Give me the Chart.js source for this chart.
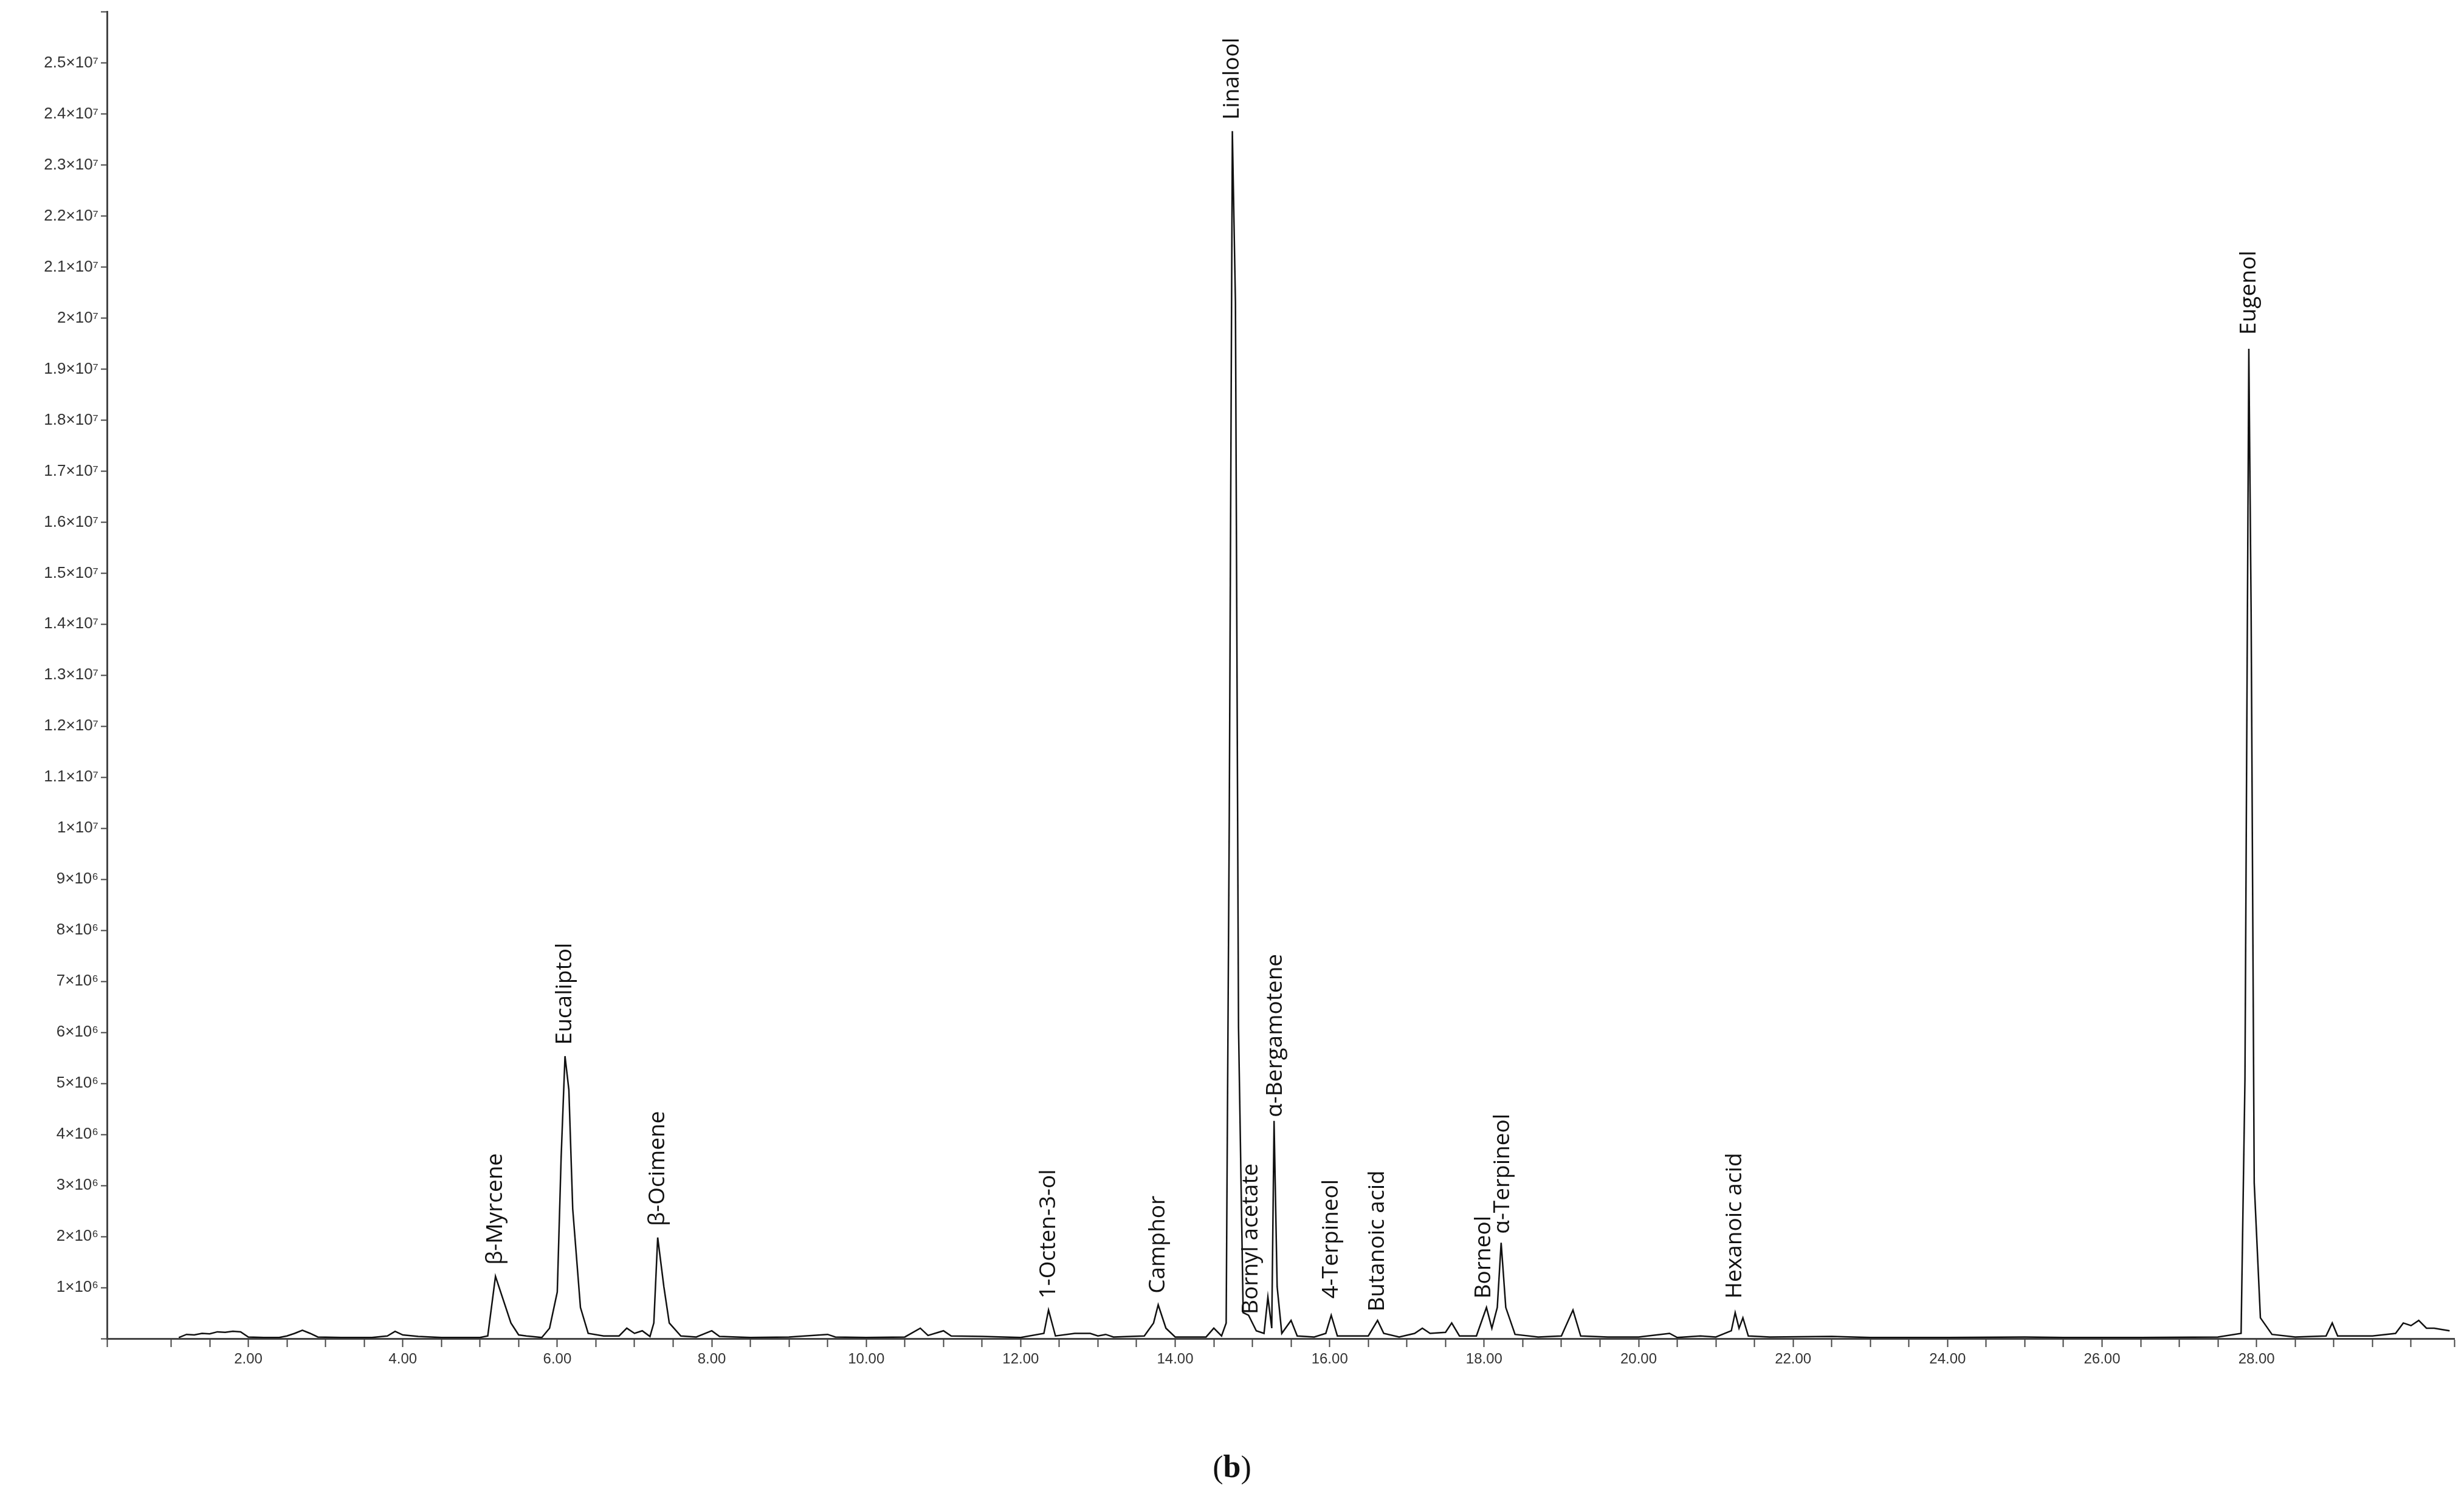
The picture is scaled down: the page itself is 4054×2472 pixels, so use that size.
<!DOCTYPE html>
<html><head><meta charset="utf-8">
<script src="https://cdn.jsdelivr.net/npm/chart.js@4/dist/chart.umd.min.js"></script>
<style>html,body{margin:0;padding:0;background:#fff}#wrap{width:4054px;height:2472px}</style>
</head><body>
<div id="wrap"><canvas id="c" width="4054" height="2472"></canvas></div>
<script>
/* chromatogram (b) — values in units of 1e6 counts */
const SCALE = 1e6;
const times = [1.1,1.2,1.3,1.4,1.5,1.6,1.7,1.8,1.9,2.0,2.2,2.4,2.5,2.6,2.7,2.8,2.9,3.2,3.6,3.8,3.9,4.0,4.2,4.5,5.0,5.1,5.2,5.3,5.4,5.5,5.6,5.8,5.9,6.0,6.05,6.1,6.15,6.2,6.3,6.4,6.6,6.8,6.9,7.0,7.1,7.2,7.25,7.3,7.38,7.45,7.6,7.8,8.0,8.1,8.5,9.0,9.5,9.6,10.0,10.5,10.7,10.8,11.0,11.1,11.5,12.0,12.3,12.36,12.45,12.7,12.9,13.0,13.1,13.2,13.6,13.72,13.78,13.88,14.0,14.4,14.5,14.6,14.66,14.7,14.74,14.78,14.82,14.88,14.95,15.05,15.15,15.2,15.25,15.28,15.32,15.38,15.5,15.58,15.8,15.95,16.02,16.1,16.5,16.62,16.7,16.9,17.1,17.2,17.3,17.5,17.58,17.68,17.9,18.03,18.1,18.17,18.22,18.28,18.4,18.7,19.0,19.15,19.25,19.6,20.0,20.4,20.5,20.8,21.0,21.2,21.25,21.3,21.35,21.42,21.7,22.5,23.0,24.0,25.0,25.5,26.5,27.5,27.8,27.85,27.9,27.93,27.97,28.05,28.2,28.5,28.9,28.98,29.05,29.5,29.8,29.9,30.0,30.1,30.2,30.3,30.5];
const signal = [0.02,0.08,0.07,0.1,0.09,0.13,0.12,0.14,0.13,0.03,0.02,0.02,0.05,0.1,0.16,0.1,0.03,0.02,0.02,0.05,0.14,0.07,0.04,0.02,0.02,0.05,1.2,0.75,0.3,0.07,0.05,0.02,0.2,0.9,3.5,5.45,4.8,2.5,0.6,0.1,0.05,0.05,0.2,0.1,0.15,0.04,0.3,1.95,1.0,0.3,0.05,0.03,0.15,0.04,0.02,0.03,0.08,0.03,0.02,0.03,0.2,0.06,0.15,0.05,0.04,0.02,0.1,0.55,0.05,0.1,0.1,0.05,0.08,0.03,0.05,0.3,0.65,0.2,0.03,0.03,0.2,0.05,0.3,10,23.3,20,6,0.5,0.45,0.15,0.1,0.8,0.2,4.2,1.0,0.1,0.35,0.05,0.03,0.1,0.45,0.05,0.05,0.35,0.1,0.03,0.1,0.2,0.1,0.12,0.3,0.05,0.05,0.6,0.2,0.6,1.85,0.6,0.08,0.03,0.05,0.55,0.05,0.03,0.03,0.1,0.02,0.05,0.03,0.15,0.5,0.2,0.4,0.05,0.03,0.04,0.02,0.02,0.03,0.02,0.02,0.03,0.1,5,19.1,14,3,0.4,0.08,0.03,0.05,0.3,0.05,0.05,0.1,0.3,0.25,0.35,0.2,0.2,0.15];

const peakNames = ["β-Myrcene","Eucaliptol","β-Ocimene","1-Octen-3-ol","Camphor","Linalool","Bornyl acetate","α-Bergamotene","4-Terpineol","Butanoic acid","Borneol","α-Terpineol","Hexanoic acid","Eugenol"];
const peakTimes = [5.2,6.1,7.3,12.36,13.78,14.74,14.98,15.3,16.02,16.62,18.0,18.24,21.25,27.9];
const peakLabelBase = [1.35,5.6,2.1,0.7,0.8,23.45,0.4,4.2,0.7,0.45,0.7,1.95,0.7,19.3];

const points = times.map((t,i)=>({x:t, y:signal[i]*SCALE}));
const sup = {"6":"⁶","7":"⁷"};

const peakLabels = {
  id:"peakLabels",
  afterDatasetsDraw(chart){
    const {ctx, scales:{x,y}} = chart;
    ctx.save();
    ctx.fillStyle = "#111";
    ctx.font = "37px 'Open Sans'";
    ctx.textAlign = "left"; ctx.textBaseline = "middle";
    peakNames.forEach((n,i)=>{
      ctx.save();
      ctx.translate(x.getPixelForValue(peakTimes[i]), y.getPixelForValue(peakLabelBase[i]*SCALE) - 6);
      ctx.rotate(-Math.PI/2);
      ctx.fillText(n, 0, 0);
      ctx.restore();
    });
    // caption
    const cx = chart.width/2, cy = 2418;
    ctx.font = "52px 'Liberation Serif'";
    const w1 = ctx.measureText("(").width;
    ctx.font = "bold 52px 'Liberation Serif'";
    const w2 = ctx.measureText("b").width;
    let sx = cx - (2*w1 + w2)/2;
    ctx.font = "52px 'Liberation Serif'"; ctx.fillText("(", sx, cy);
    ctx.font = "bold 52px 'Liberation Serif'"; ctx.fillText("b", sx+w1, cy);
    ctx.font = "52px 'Liberation Serif'"; ctx.fillText(")", sx+w1+w2, cy);
    ctx.restore();
  }
};

new Chart(document.getElementById("c"), {
  type:"line",
  data:{ datasets:[{ data:points, borderColor:"#111", borderWidth:2.5, pointRadius:0, tension:0 }] },
  options:{
    responsive:false, animation:false, devicePixelRatio:1,
    layout:{ padding:{ top:19, right:16, left:0, bottom:0 } },
    plugins:{ legend:{display:false}, tooltip:{enabled:false} },
    scales:{
      x:{ type:"linear", min:0.17, max:30.56,
        afterFit(s){ s.height = 269; },
        border:{ color:"#444", width:3 },
        grid:{ drawOnChartArea:false, tickLength:14, tickColor:"#444", tickWidth:2 },
        ticks:{ stepSize:0.5, autoSkip:false, maxRotation:0, color:"#333", padding:6,
          font:{ family:"'Liberation Sans'", size:24 },
          callback:(v)=> (Math.abs(v%2)<1e-9 && v>0 && v<29) ? v.toFixed(2) : "" }
      },
      y:{ min:0, max:25.6*SCALE,
        afterFit(s){ s.width = 176; },
        border:{ color:"#444", width:3 },
        grid:{ drawOnChartArea:false, tickLength:10, tickColor:"#444", tickWidth:2 },
        ticks:{ stepSize:SCALE, autoSkip:false, color:"#333", padding:4,
          font:{ family:"'Liberation Sans'", size:26 },
          callback:(v)=>{
            const m = Math.round(v/SCALE);
            if (m===0 || m>25) return "";
            return m>=10 ? `${m/10}×10${sup[7]}` : `${m}×10${sup[6]}`;
          } }
      }
    }
  },
  plugins:[peakLabels]
});
</script>
</body></html>
